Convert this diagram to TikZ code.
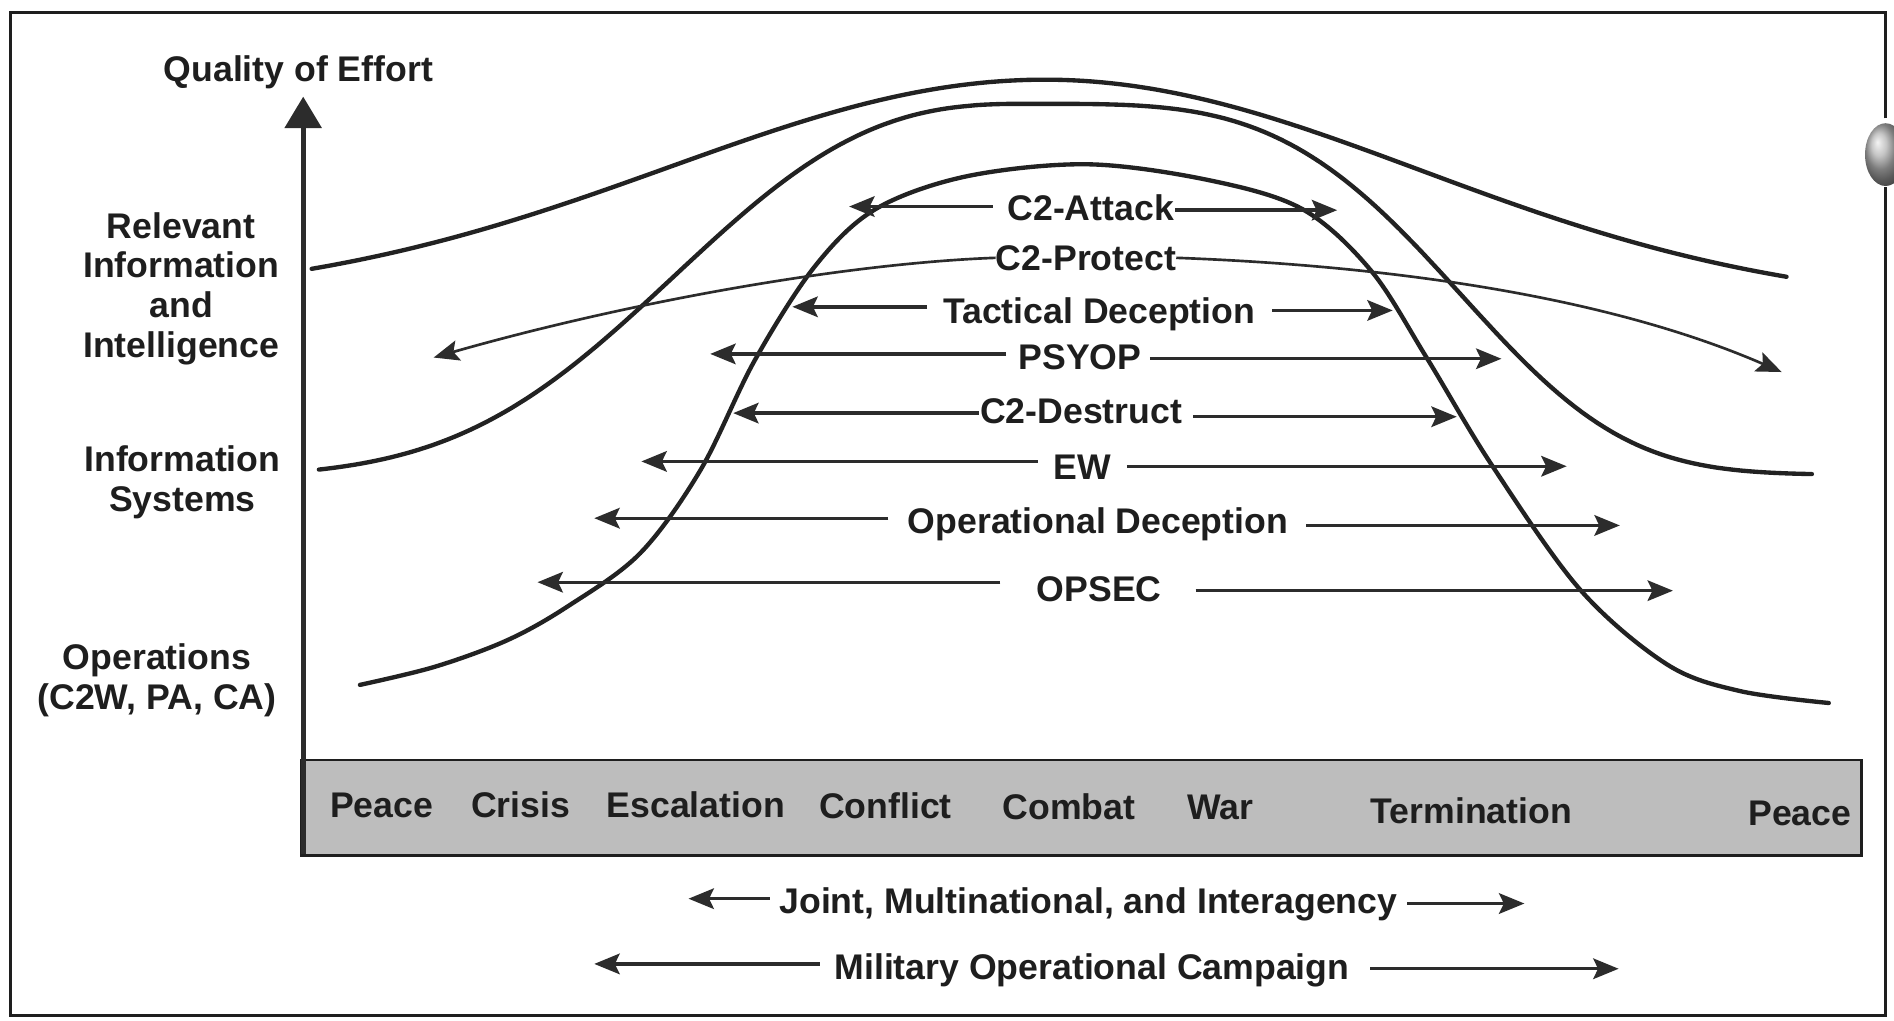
\documentclass[tikz,border=0pt]{standalone}
\usepackage{fontspec}
\setmainfont{Liberation Sans}
\usetikzlibrary{arrows.meta,calc}
\definecolor{ink}{HTML}{1E1E1E}
\definecolor{crv}{HTML}{222222}
\definecolor{arc}{HTML}{2C2C2C}
\definecolor{barfill}{HTML}{BDBDBD}
\begin{document}
\begin{tikzpicture}[x=1pt,y=-1pt,
  lbl/.style={font=\fontsize{29.5}{33}\selectfont\bfseries, text=ink, inner sep=0pt, anchor=base},
  sidelbl/.style={font=\fontsize{29.5}{33}\selectfont\bfseries, text=ink, inner sep=0pt, align=center},
  curve/.style={draw=crv, line width=3.6pt, line cap=round, line join=round},
  arrowline/.style={draw=arc, line width=2.8pt, -{Stealth[length=21pt,width=17pt,inset=4pt]}},
  thinarrow/.style={draw=arc, line width=2.2pt, -{Stealth[length=21pt,width=17pt,inset=4pt]}},
]
\useasboundingbox (0,0) rectangle (1568,845);
\fill[white] (0,0) rectangle (1568,845);

% frame
\draw[line width=2.6pt, draw=ink] (1561,98) -- (1561,10) -- (9,10) -- (9,841) -- (1561,841) -- (1561,155);
\shade[ball color=gray!60] (1561,128) ellipse [x radius=17pt, y radius=26pt];

% phase bar
\node[draw=ink, line width=2.4pt, fill=barfill, minimum width=1292pt, minimum height=79pt, inner sep=0pt, anchor=north west] (bar) at (248,628) {};
\node[lbl] (p1) at (316,676.6) {Peace};
\node[lbl] (crisis) at (431,676.6) {Crisis};
\node[lbl] (escal) at (576,676.6) {Escalation};
\node[lbl] (conflict) at (733,677.6) {Conflict};
\node[lbl] (combat) at (885,678.6) {Combat};
\node[lbl] (war) at (1010,678.6) {War};
\node[lbl] (term) at (1218,681.6) {Termination};
\node[lbl] (p2) at (1490,683.6) {Peace};

% axis
\coordinate (axbot) at (251,707);
\coordinate (axtop) at (251,80);
\draw[draw=arc, line width=4pt, -{Triangle[length=26pt,width=30pt]}] (axbot) -- (axtop);
\node[lbl] (qual) at (247,67.6) {Quality of Effort};

% side labels
\node[sidelbl] (rii) at (150,239) {Relevant\\Information\\and\\Intelligence};
\node[sidelbl] (is) at (151,399.5) {Information\\Systems};
\node[sidelbl] (ops) at (130,563.5) {Operations\\(C2W, PA, CA)};

% main curves
\draw[curve] plot[domain=258:865, samples=80] (\x,{250-184*exp(-((865-\x)/440)^2)})
  -- plot[domain=866:1479, samples=80] (\x,{256-190*exp(-((\x-865)/439)^2)});
\draw[curve] plot[domain=264:849.5, samples=100] (\x,{395-309*exp(-((850-\x)/350)^2.64)})
  -- plot[domain=850.5:1500, samples=100] (\x,{393-307*exp(-((\x-850)/392.8)^3.67)});
\draw[curve] plot[smooth, tension=0.55] coordinates {(298,567) (360,552) (420,530) (470,502) (530,458) (580,389) (625,298) (675,220) (725,173) (800,146) (900,136) (1000,149) (1078,173) (1135,224) (1181,296) (1235,385) (1308,488) (1380,550) (1440,572) (1514,582)};

% C2-Protect curved arrow
\node[lbl] (protect) at (899,223.6) {C2-Protect};
\coordinate (pcL) at (359,296);
\coordinate (pcR) at (1475,308);
\draw[thinarrow] (protect.west) .. controls (700,218) and (520,250) .. (pcL);
\draw[thinarrow] (protect.east) .. controls (1150,220) and (1330,245) .. (pcR);

% straight arrows
\node[lbl] (attack) at (903,182.6) {C2-Attack};
\coordinate (aL) at (703,171); \coordinate (aR) at (1107,174);
\draw[arrowline] ($(attack.west |- aL)+(-12,0)$) -- (aL);
\draw[arrowline] ($(attack.east |- aR)+(1,0)$) -- (aR);

\node[lbl] (tact) at (910,267.6) {Tactical Deception};
\coordinate (tL) at (656,254); \coordinate (tR) at (1153,257);
\draw[arrowline] ($(tact.west |- tL)+(-13,0)$) -- (tL);
\draw[arrowline] ($(tact.east |- tR)+(14,0)$) -- (tR);

\node[lbl] (psyop) at (894,305.6) {PSYOP};
\coordinate (pL) at (588,293); \coordinate (pR) at (1243,297);
\draw[arrowline] ($(psyop.west |- pL)+(-10,0)$) -- (pL);
\draw[arrowline] ($(psyop.east |- pR)+(7,0)$) -- (pR);

\node[lbl] (destr) at (895,350.6) {C2-Destruct};
\coordinate (dL) at (607,342); \coordinate (dR) at (1206,345);
\draw[arrowline] ($(destr.west |- dL)+(-1,0)$) -- (dL);
\draw[arrowline] ($(destr.east |- dR)+(9,0)$) -- (dR);

\node[lbl] (ew) at (896,396.6) {EW};
\coordinate (eL) at (531,382); \coordinate (eR) at (1297,386);
\draw[arrowline] ($(ew.west |- eL)+(-13,0)$) -- (eL);
\draw[arrowline] ($(ew.east |- eR)+(13,0)$) -- (eR);

\node[lbl] (opdec) at (909,441.6) {Operational Deception};
\coordinate (oL) at (492,429); \coordinate (oR) at (1341,435);
\draw[arrowline] ($(opdec.west |- oL)+(-16,0)$) -- (oL);
\draw[arrowline] ($(opdec.east |- oR)+(15,0)$) -- (oR);

\node[lbl] (opsec) at (910,497.6) {OPSEC};
\coordinate (sL) at (445,482); \coordinate (sR) at (1385,489);
\draw[arrowline] ($(opsec.west |- sL)+(-30,0)$) -- (sL);
\draw[arrowline] ($(opsec.east |- sR)+(28,0)$) -- (sR);

% bottom arrows
\node[lbl] (joint) at (901,756.6) {Joint, Multinational, and Interagency};
\coordinate (jL) at (570,744); \coordinate (jR) at (1262,748);
\draw[arrowline] ($(joint.west |- jL)+(-8,0)$) -- (jL);
\draw[arrowline] ($(joint.east |- jR)+(8,0)$) -- (jR);

\node[lbl] (mil) at (904,810.6) {Military Operational Campaign};
\coordinate (mL) at (492,798); \coordinate (mR) at (1340,802);
\draw[arrowline] ($(mil.west |- mL)+(-12,0)$) -- (mL);
\draw[arrowline] ($(mil.east |- mR)+(17,0)$) -- (mR);
\end{tikzpicture}
\end{document}
